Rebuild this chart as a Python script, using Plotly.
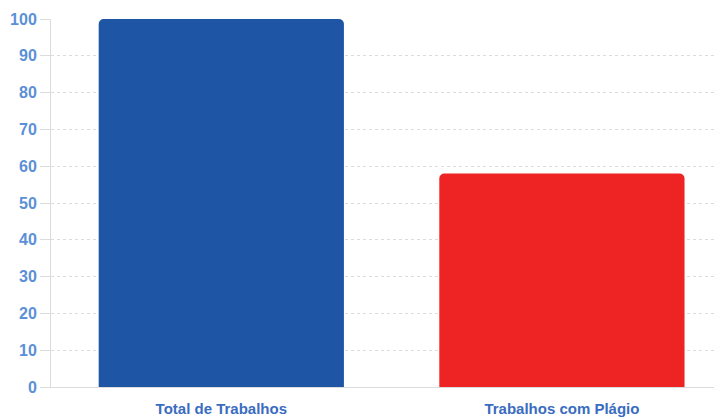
import plotly.graph_objects as go

categories = ["Total de Trabalhos", "Trabalhos com Plágio"]
values = [100, 58]
colors = ["#1f55a5", "#ee2424"]
y_ticks = [0, 10, 20, 30, 40, 50, 60, 70, 80, 90, 100]

fig = go.Figure(go.Bar(
    x=categories, y=values,
    marker=dict(color=colors, line=dict(width=0), cornerradius=5),
    width=0.72,
))

# page body has an 8px default margin, so the figure is sized to compensate
fig.update_layout(
    width=714, height=411,
    margin=dict(l=43, r=0, t=11, b=32, autoexpand=False),
    plot_bgcolor="white", paper_bgcolor="white",
    showlegend=False,
    font=dict(family="Liberation Sans, Arial, sans-serif"),
)
fig.update_xaxes(
    range=[-0.5, 1.47],
    automargin=False,
    showgrid=False,
    showline=True, linecolor="#dcdcdc", linewidth=1,
    tickfont=dict(size=15, color="#3a6cc0", weight="bold"),
    ticks="", ticklabelstandoff=8,
)
fig.update_yaxes(
    range=[0, 100],
    automargin=False,
    tickvals=y_ticks,
    showgrid=True, gridcolor="#dcdcdc", griddash="3px,3px", gridwidth=1,
    showline=True, linecolor="#dcdcdc", linewidth=1,
    ticks="outside", ticklen=10, tickcolor="#dcdcdc",
    tickfont=dict(size=16, color="#5b8fd6", weight="bold"),
    zeroline=False,
)

fig.write_html("out.html")
